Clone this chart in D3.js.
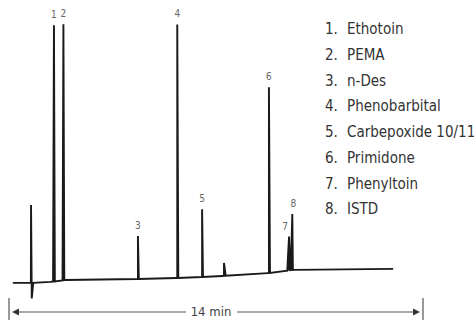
<!DOCTYPE html>
<html>
<head>
<meta charset="utf-8">
<script src="https://cdn.jsdelivr.net/npm/d3@7"></script>
<style>
  body { margin: 0; background: #fff; }
  text { font-family: "Liberation Sans Narrow", "DejaVu Sans Condensed", sans-serif; }
</style>
</head>
<body>
<div id="chart"></div>
<script>
const width = 474, height = 321;

// peak number, retention time (min), height above baseline, half width (min)
const peakIds = [1, 2, 3, 4, 5, 6, 7, 8];
const peakTimes = [1.52, 1.84, 4.36, 5.69, 6.53, 8.79, 9.47, 9.58];
const peakHeights = [98.5, 98.5, 16.5, 97.5, 26, 71.5, 13, 21.5];
const peakHalfWidths = [0.03, 0.03, 0.03, 0.035, 0.03, 0.035, 0.06, 0.07];
const compounds = ["Ethotoin", "PEMA", "n-Des", "Phenobarbital", "Carbepoxide 10/11",
    "Primidone", "Phenyltoin", "ISTD"];

// drifting baseline (min, signal)
const baseTimes = [0.13, 0.74, 1.4, 1.9, 4.36, 5.69, 6.53, 7.27, 8.79, 9.6, 12.99];
const baseValues = [0.8, 0.8, 1.2, 1.9, 2.3, 2.7, 3.1, 3.5, 4.6, 5.8, 6.2];

// injection disturbance and small unlabelled bump
const injection = {time: 0.74, up: 30, down: -6};
const bump = {time: 7.27, height: 5, halfWidth: 0.06};

let x = d3.scaleLinear().domain([0, 14]).range([9, 423]);
let y = d3.scaleLinear().domain([0, 100]).range([285, 25]);

let svg = d3.select("#chart")
    .append("svg")
    .attr("width", width)
    .attr("height", height);

function baseAt(t) {
    let i = d3.bisectRight(baseTimes, t);
    if (i <= 0) return baseValues[0];
    if (i >= baseTimes.length) return baseValues[baseValues.length - 1];
    let t0 = baseTimes[i - 1], t1 = baseTimes[i];
    let v0 = baseValues[i - 1], v1 = baseValues[i];
    return v0 + (v1 - v0) * (t - t0) / (t1 - t0);
}

// build trace points: baseline knots plus triangular spikes
let pts = baseTimes.map((t, i) => [t, baseValues[i]]);
pts.push([injection.time + 0.005, baseAt(injection.time) + injection.up]);
pts.push([injection.time + 0.03, baseAt(injection.time) + injection.down]);
pts.push([injection.time + 0.08, baseAt(injection.time + 0.08)]);
peakTimes.forEach((t, i) => {
    let w = peakHalfWidths[i];
    pts.push([t - w, baseAt(t - w)]);
    pts.push([t, baseAt(t) + peakHeights[i]]);
    pts.push([t + w, baseAt(t + w)]);
});
pts.push([bump.time - bump.halfWidth, baseAt(bump.time - bump.halfWidth)]);
pts.push([bump.time, baseAt(bump.time) + bump.height]);
pts.push([bump.time + bump.halfWidth, baseAt(bump.time + bump.halfWidth)]);
pts.sort((a, b) => a[0] - b[0]);

let line = d3.line()
    .x(d => x(d[0]))
    .y(d => y(d[1]));

svg.append("path")
    .datum(pts)
    .attr("d", line)
    .attr("fill", "none")
    .attr("stroke", "#1a1a1a")
    .attr("stroke-width", 1.9)
    .attr("stroke-linejoin", "miter");

// fill under the 7/8 doublet
let doublet = pts.filter(p => p[0] >= peakTimes[6] - peakHalfWidths[6] && p[0] <= peakTimes[7] + peakHalfWidths[7]);
svg.append("path")
    .datum(doublet)
    .attr("d", d3.area().x(d => x(d[0])).y0(d => y(baseAt(d[0]))).y1(d => y(d[1])))
    .attr("fill", "#1a1a1a");

// peak number labels
const labelDx = [0, 0, 0, 0, 0, 0, -4, 1];
svg.append("g")
    .selectAll("text")
    .data(peakIds)
    .enter()
    .append("text")
    .attr("x", (d, i) => x(peakTimes[i]) + labelDx[i])
    .attr("y", (d, i) => y(baseAt(peakTimes[i]) + peakHeights[i]) - 7)
    .attr("text-anchor", "middle")
    .style("font-size", "10px")
    .style("fill", "#666")
    .text(d => d);

// legend
let legend = svg.append("g");
legend.selectAll("text.num")
    .data(peakIds)
    .enter()
    .append("text")
    .attr("class", "num")
    .attr("x", 325)
    .attr("y", (d, i) => 34 + i * 25.75)
    .style("font-size", "15px")
    .style("fill", "#333")
    .text(d => d + ".");
legend.selectAll("text.name")
    .data(compounds)
    .enter()
    .append("text")
    .attr("class", "name")
    .attr("x", 347)
    .attr("y", (d, i) => 34 + i * 25.75)
    .style("font-size", "15px")
    .style("fill", "#333")
    .text(d => d);

// time span arrow
let axisY = 312;
let span = svg.append("g").attr("stroke", "#555").attr("stroke-width", 1.2);
span.append("line").attr("x1", x(0)).attr("x2", x(0)).attr("y1", 298).attr("y2", 320);
span.append("line").attr("x1", x(14)).attr("x2", x(14)).attr("y1", 298).attr("y2", 320);
span.append("line").attr("x1", x(0) + 5).attr("x2", 186).attr("y1", axisY).attr("y2", axisY);
span.append("line").attr("x1", 237).attr("x2", x(14) - 5).attr("y1", axisY).attr("y2", axisY);
svg.append("path")
    .attr("d", `M${x(0) + 3},${axisY} l7,-3.5 v7 z`)
    .attr("fill", "#333");
svg.append("path")
    .attr("d", `M${x(14) - 3},${axisY} l-7,-3.5 v7 z`)
    .attr("fill", "#333");
svg.append("text")
    .attr("x", 211)
    .attr("y", 316)
    .attr("text-anchor", "middle")
    .style("font-size", "13px")
    .style("fill", "#444")
    .text("14 min");
</script>
</body>
</html>
